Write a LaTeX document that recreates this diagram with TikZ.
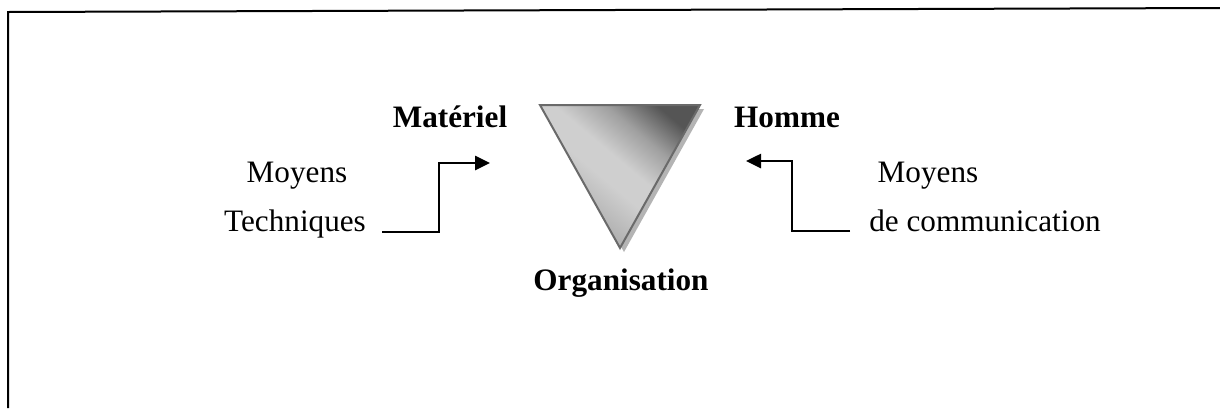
\documentclass[tikz,border=0pt]{standalone}
\usepackage{fontspec}
\setmainfont{Liberation Serif}
\usetikzlibrary{arrows.meta}
\definecolor{triedge}{HTML}{6A6A6A}
\definecolor{tridark}{HTML}{555555}
\definecolor{trimid}{HTML}{CFCFCF}
\definecolor{trisemi}{HTML}{A0A0A0}
\definecolor{trilow}{HTML}{AAAAAA}
\definecolor{trishadow}{HTML}{B4B4B4}
\pgfdeclareverticalshading{trishade}{100bp}{color(0bp)=(trilow); color(30bp)=(trilow); color(46bp)=(trimid); color(54bp)=(trimid); color(65bp)=(trisemi); color(76bp)=(tridark); color(100bp)=(tridark)}
\begin{document}
\begin{tikzpicture}[x=0.5pt,y=-0.5pt,
  lbl/.style={anchor=base,inner sep=0pt,font=\fontsize{15.6}{18}\selectfont},
  blbl/.style={anchor=base,inner sep=0pt,font=\fontsize{15.6}{18}\selectfont\bfseries},
  conn/.style={line width=1.3pt,-{Triangle[length=7.5pt,width=7pt]}}]
\useasboundingbox[fill=white] (0,0) rectangle (1220,408);
\draw[line width=1pt] (8,408) -- (8,12) -- (1220,8);
% triangle
\fill[trishadow] (544,109) -- (704,109) -- (624,252) -- cycle;
\shade[shading=trishade, shading angle=-40,
  draw=triedge, line width=1pt, line join=miter] (540,105) -- (700,105) -- (620,248) -- cycle;
% labels
\node[blbl] (mat) at (450,127) {Matériel};
\node[blbl] (hom) at (787,127) {Homme};
\node[blbl] (org) at (621,290) {Organisation};
\node[lbl] (moyL) at (297,182) {Moyens};
\node[lbl] (tech) at (295,231) {Techniques};
\node[lbl] (moyR) at (928,182) {Moyens};
\node[lbl] (comm) at (985,231) {de communication};
% connectors
\coordinate (lstart) at (382,232);
\coordinate (lbend) at (439,163);
\coordinate (ltip) at (490,163);
\coordinate (rstart) at (850,231);
\coordinate (rbend) at (792,161);
\coordinate (rtip) at (746,161);
\draw[conn] (lstart) -| (lbend) -- (ltip);
\draw[conn] (rstart) -| (rbend) -- (rtip);
\end{tikzpicture}
\end{document}
